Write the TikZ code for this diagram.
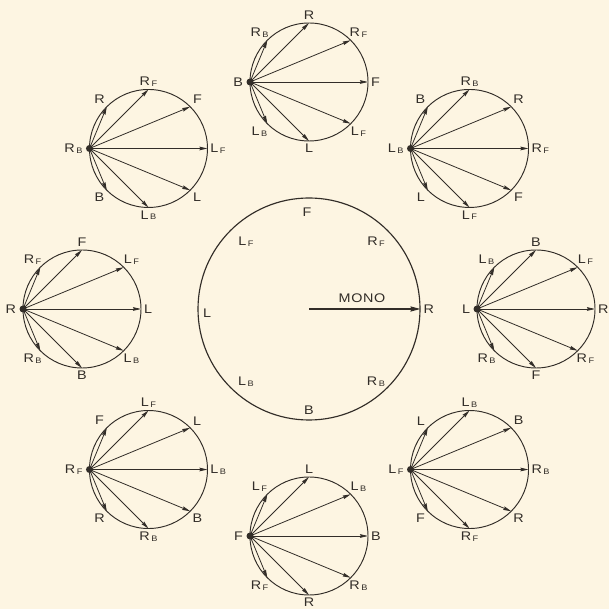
\documentclass[tikz,border=0pt]{standalone}
\usepackage{fontspec}
\newfontfamily\lab{Liberation Sans}[FakeStretch=1.15]
\usetikzlibrary{arrows.meta,calc}
\definecolor{paper}{RGB}{253,245,226}
\definecolor{ink}{RGB}{50,45,40}
\newcommand\sbs[2]{#1\kern1.5pt\raisebox{-0.9pt}{\fontsize{8}{8}\selectfont #2}}
\newcommand\spk[4]{%
  \coordinate (#1) at ($(main.center)+(#2:227)$);
  \draw[smallring] (#1) circle (59);
  \node[dotnode] (#1-d) at ($(#1)+(180:59)$) {};
  \node[lbl, anchor=east] (#1-t0) at ($(#1-d.center)+(-4,0)$) {#3};
  \foreach [count=\k] \t in {#4} {
    \pgfmathsetmacro\a{180-45*\k}
    \pgfmathsetmacro\b{\a+180}
    \coordinate (#1-p\k) at ($(#1)+(\a:59)$);
    \draw[arr] (#1-d.center) -- (#1-p\k);
    \node[lbl, anchor=\b] (#1-t\k) at (#1-p\k) {\t};
  }%
}
\begin{document}
\begin{tikzpicture}[x=1pt,y=1pt,
  lbl/.style={font=\lab\fontsize{12.5}{12.5}\selectfont, text=ink, inner sep=2.8pt},
  smallring/.style={draw=ink, line width=0.95pt},
  dotnode/.style={circle, fill=ink, inner sep=0pt, minimum size=7pt},
  arr/.style={draw=ink, line width=0.8pt, -{Stealth[length=8pt,width=3.6pt,inset=0.8pt]}},
  monoarr/.style={draw=ink, line width=1.7pt, -{Stealth[length=10pt,width=5pt,inset=1pt]}},
  bigring/.style={draw=ink, line width=1.15pt, circle, minimum size=222pt, inner sep=0pt}]
\fill[paper] (0,0) rectangle (609,609);
\useasboundingbox (0,0) rectangle (609,609);
% central diagram
\node[bigring] (main) at (309,300) {};
\draw[monoarr] (main.center) -- (main.east);
\node[lbl, font=\lab\fontsize{12.5}{12.5}\selectfont\addfontfeature{LetterSpace=5}] (mono) at (362,311) {MONO};
\node[lbl] (cF) at (307,397) {F};
\node[lbl] (cLF) at (246,367) {\sbs{L}{F}};
\node[lbl] (cRF) at (376,367) {\sbs{R}{F}};
\node[lbl] (cL) at (207,296) {L};
\node[lbl] (cLB) at (246,227) {\sbs{L}{B}};
\node[lbl] (cRB) at (376,227) {\sbs{R}{B}};
\node[lbl] (cB) at (309,199) {B};
\node[lbl, anchor=west] (cR) at (main.east) {R};
% surrounding circles
\spk{top}{90}{B}{{\sbs{R}{B}},R,{\sbs{R}{F}},F,{\sbs{L}{F}},L,{\sbs{L}{B}}}
\spk{tl}{135}{\sbs{R}{B}}{R,{\sbs{R}{F}},F,{\sbs{L}{F}},L,{\sbs{L}{B}},B}
\spk{tr}{45}{\sbs{L}{B}}{B,{\sbs{R}{B}},R,{\sbs{R}{F}},F,{\sbs{L}{F}},L}
\spk{lf}{180}{R}{{\sbs{R}{F}},F,{\sbs{L}{F}},L,{\sbs{L}{B}},B,{\sbs{R}{B}}}
\spk{rt}{0}{L}{{\sbs{L}{B}},B,{\sbs{L}{F}},R,{\sbs{R}{F}},F,{\sbs{R}{B}}}
\spk{bl}{225}{\sbs{R}{F}}{F,{\sbs{L}{F}},L,{\sbs{L}{B}},B,{\sbs{R}{B}},R}
\spk{bt}{270}{F}{{\sbs{L}{F}},L,{\sbs{L}{B}},B,{\sbs{R}{B}},R,{\sbs{R}{F}}}
\spk{br}{315}{\sbs{L}{F}}{L,{\sbs{L}{B}},B,{\sbs{R}{B}},R,{\sbs{R}{F}},F}
\end{tikzpicture}
\end{document}
